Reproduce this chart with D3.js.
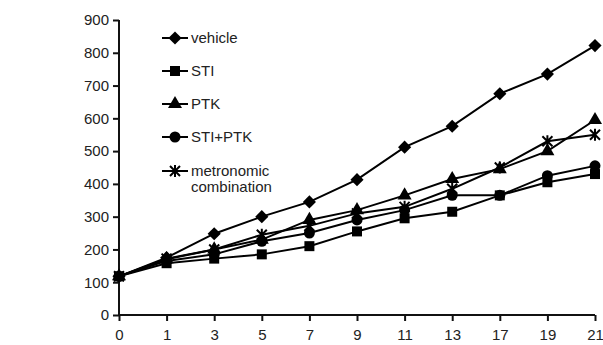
<!DOCTYPE html>
<html lang="en">
<head>
<meta charset="UTF-8"/>
<title>Tumour volume</title>
<script src="https://d3js.org/d3.v7.min.js"></script>
<style>
  body { margin: 0; background: #fff; }
  text { font-family: "Liberation Sans", Arial, sans-serif; }
</style>
</head>
<body>
<script>
    // days (categorical x axis)
    var days = ["0", "1", "3", "5", "7", "9", "11", "13", "17", "19", "21"];
    var yTicks = [0, 100, 200, 300, 400, 500, 600, 700, 800, 900];

    var vehicle     = [118, 175, 248, 300, 345, 413, 512, 576, 675, 735, 822];
    var sti         = [118, 158, 172, 185, 210, 255, 295, 315, 365, 405, 430];
    var ptk         = [118, 170, 200, 230, 290, 320, 365, 415, 445, 500, 595];
    var stiPtk      = [118, 165, 185, 225, 250, 290, 320, 365, 365, 425, 455];
    var metronomic  = [118, 172, 200, 245, 272, 310, 330, 385, 450, 530, 550];

    var seriesNames = ["vehicle", "STI", "PTK", "STI+PTK", "metronomic combination"];
    var seriesData = [vehicle, sti, ptk, stiPtk, metronomic];
    var seriesShapes = ["diamond", "square", "triangle", "circle", "star"];

    var w = 603, h = 345;

    var xScale = d3.scalePoint()
                   .domain(days)
                   .range([119, 595]);

    var yScale = d3.scaleLinear()
                   .domain([0, 900])
                   .range([315, 20]);

    var svg = d3.select("body")
                .append("svg")
                .attr("width", w)
                .attr("height", h);

    // axes
    var yAxis = d3.axisLeft(yScale).tickValues(yTicks).tickSize(6).tickPadding(4);
    var xAxis = d3.axisBottom(xScale).tickSize(6).tickPadding(8);

    var gy = svg.append("g")
       .attr("transform", "translate(119,0)")
       .call(yAxis);

    var gx = svg.append("g")
       .attr("transform", "translate(0,315)")
       .call(xAxis);

    [gx, gy].forEach(function(g) {
        g.select(".domain").attr("stroke", "#111").attr("stroke-width", 2);
        g.selectAll(".tick line").attr("stroke", "#111").attr("stroke-width", 2);
        g.selectAll(".tick text")
         .attr("fill", "#222")
         .style("font-size", "15px")
         .style("font-family", "'Liberation Sans', Arial, sans-serif");
    });
    // keep the axis line ending exactly at the outer ticks
    gx.select(".domain").attr("d", "M119,0H595");
    gy.select(".domain").attr("d", "M0,315V20");

    function marker(g, shape, x, y) {
        if (shape === "star") {
            g.append("path")
             .attr("d", "M" + (x - 5) + "," + (y - 5) + "L" + (x + 5) + "," + (y + 5) +
                        "M" + (x - 5) + "," + (y + 5) + "L" + (x + 5) + "," + (y - 5) +
                        "M" + x + "," + (y - 6) + "L" + x + "," + (y + 6))
             .attr("stroke", "#000")
             .attr("stroke-width", 2)
             .attr("fill", "none");
            return;
        }
        var type = {
            diamond: d3.symbolDiamond2,
            square: d3.symbolSquare,
            triangle: d3.symbolTriangle,
            circle: d3.symbolCircle
        }[shape];
        var size = { diamond: 110, square: 100, triangle: 85, circle: 95 }[shape];
        g.append("path")
         .attr("d", d3.symbol().type(type).size(size)())
         .attr("transform", "translate(" + x + "," + y + ")")
         .attr("fill", "#000");
    }

    var line = d3.line()
                 .x(function(d, i) { return xScale(days[i]); })
                 .y(function(d) { return yScale(d); });

    seriesData.forEach(function(values, s) {
        var g = svg.append("g");
        g.append("path")
         .datum(values)
         .attr("d", line)
         .attr("fill", "none")
         .attr("stroke", "#000")
         .attr("stroke-width", 2);
        values.forEach(function(v, i) {
            marker(g, seriesShapes[s], xScale(days[i]), yScale(v));
        });
    });

    // legend
    var legendY = [38, 71, 104, 137, 171];
    seriesNames.forEach(function(name, s) {
        var g = svg.append("g");
        var y = legendY[s];
        g.append("line")
         .attr("x1", 162).attr("x2", 188)
         .attr("y1", y).attr("y2", y)
         .attr("stroke", "#000")
         .attr("stroke-width", 2);
        marker(g, seriesShapes[s], 175, y);
        var t = g.append("text")
         .attr("x", 191)
         .attr("y", y + 5)
         .attr("fill", "#222")
         .style("font-size", "15px");
        if (name === "metronomic combination") {
            t.append("tspan").attr("x", 191).text("metronomic");
            t.append("tspan").attr("x", 191).attr("dy", 16).text("combination");
        } else {
            t.text(name);
        }
    });
</script>
</body>
</html>
